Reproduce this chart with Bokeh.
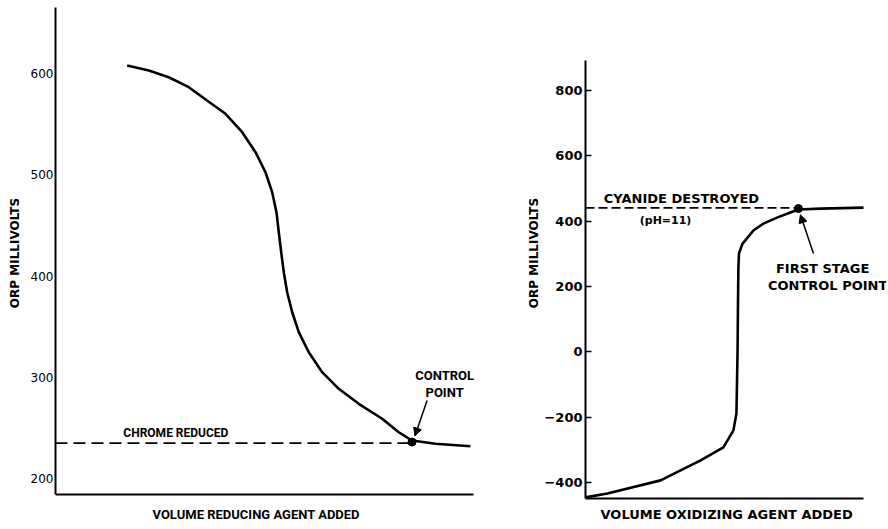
from bokeh.plotting import figure
from bokeh.layouts import row
from bokeh.models import Range1d, FixedTicker, Label, Arrow, NormalHead, Title
from bokeh.embed import file_html
from bokeh.resources import INLINE

# ---------------- Left panel: chrome reduction ----------------
chrome_x = [17.15, 22.32, 27.10, 31.89, 36.67, 40.67, 44.67, 47.85, 50.24, 51.84,
            52.87, 53.42, 54.00, 54.62, 55.43, 56.63, 58.21, 60.60, 63.80, 67.78,
            72.56, 78.16, 82.13, 85.33, 90.91, 99.28]
chrome_orp = [607.9, 603.0, 596.3, 586.5, 572.1, 560.2, 542.0, 522.3, 502.5, 482.8,
              463.0, 443.3, 423.5, 403.8, 384.0, 364.2, 344.5, 324.7, 305.0, 288.6,
              273.8, 259.0, 245.7, 237.5, 234.3, 231.9]
chrome_dash_x = [0, 85.3]
chrome_dash_y = [235, 235]
chrome_ctrl_x = [85.3]
chrome_ctrl_y = [236]
left_ticks = [200, 300, 400, 500, 600]
left_axis_bounds = (184.2, 665.2)
left_yrange = (180.25, 665.2)
left_xrange = (0, 103.6)

# ---------------- Right panel: cyanide oxidation ----------------
cyan_x = [0, 7.9, 27.0, 41.4, 49.6, 53.2, 54.3, 54.7, 54.9, 55.0, 55.2, 56.5,
          58.3, 60.4, 64.0, 69.1, 73.7, 76.6, 84.5, 100]
cyan_orp = [-445, -433, -393, -332, -292, -240, -188, 5, 188, 259, 302, 332,
            350, 372, 393, 412, 427, 436, 439, 442]
cyan_dash_x = [0, 76.6]
cyan_dash_y = [441, 441]
cyan_ctrl_x = [76.6]
cyan_ctrl_y = [439]
right_ticks = [-400, -200, 0, 200, 400, 600, 800]
right_axis_bounds = (-448.5, 892)
right_yrange = (-448.5, 1054.6)
right_xrange = (0, 108.27)


def base(fig, xlabel, xfont, xsize, xoffset):
    fig.outline_line_color = None
    fig.xgrid.visible = False
    fig.ygrid.visible = False
    fig.background_fill_color = "white"
    fig.border_fill_color = "white"
    for ax in (fig.xaxis[0], fig.yaxis[0]):
        ax.axis_line_color = "black"
        ax.axis_line_width = 2
        ax.minor_tick_line_color = None
        ax.axis_label_text_font_style = "bold"
        ax.axis_label_text_color = "black"
        ax.major_label_text_color = "black"
    xa = fig.xaxis[0]
    xa.ticker = FixedTicker(ticks=[])
    xa.major_tick_line_color = None
    xa.major_tick_out = 0
    xa.major_tick_in = 0
    xa.major_label_standoff = 0
    xa.bounds = (0, 100)
    fig.add_layout(Title(text=xlabel, align="left", offset=xoffset,
                         text_font=xfont, text_font_size=xsize,
                         text_font_style="bold", text_color="black",
                         standoff=12), "below")


def label(fig, x, y, text, font, size):
    fig.add_layout(Label(x=x, y=y, text=text, text_align="center",
                         text_baseline="middle", text_font=font,
                         text_font_style="bold", text_font_size=size,
                         text_color="black"))


# ---- left figure
p1 = figure(width=488, height=528, x_range=Range1d(*left_xrange),
            y_range=Range1d(*left_yrange), output_backend="svg",
            toolbar_location=None, min_border_left=55, min_border_right=0,
            min_border_top=7, min_border_bottom=30)
base(p1, "VOLUME REDUCING AGENT ADDED", "Roboto", "13px", 97)
p1.xaxis[0].fixed_location = left_axis_bounds[0]
ya = p1.yaxis[0]
ya.bounds = left_axis_bounds
ya.ticker = FixedTicker(ticks=left_ticks)
ya.major_tick_line_color = None
ya.major_tick_out = 0
ya.major_tick_in = 0
ya.major_label_standoff = 2
ya.major_label_text_font = "DejaVu Sans"
ya.major_label_text_font_size = "12px"
ya.axis_label = "ORP MILLIVOLTS"
ya.axis_label_text_font = "DejaVu Sans"
ya.axis_label_text_font_size = "12px"
ya.axis_label_standoff = 6

p1.line(chrome_dash_x, chrome_dash_y, line_color="black", line_width=1.8,
        line_dash="12 6")
p1.line(chrome_x, chrome_orp, line_color="black", line_width=2.6)
p1.scatter(chrome_ctrl_x, chrome_ctrl_y, size=8, color="black")
label(p1, 28.8, 245.4, "CHROME REDUCED", "Roboto", "12px")
label(p1, 93.1, 301.7, "CONTROL", "Roboto", "13px")
label(p1, 93.1, 284.9, "POINT", "Roboto", "13px")
p1.add_layout(Arrow(end=NormalHead(size=8, fill_color="black", line_color="black"),
                    x_start=88.9, y_start=277.0, x_end=86.0, y_end=242.0,
                    line_color="black", line_width=1.5))

# ---- right figure
p2 = figure(width=398, height=528, x_range=Range1d(*right_xrange),
            y_range=Range1d(*right_yrange), output_backend="svg",
            toolbar_location=None, min_border_left=97, min_border_right=0,
            min_border_top=7, min_border_bottom=30)
base(p2, "VOLUME OXIDIZING AGENT ADDED", "DejaVu Sans", "13px", 15)
yb = p2.yaxis[0]
yb.bounds = right_axis_bounds
yb.ticker = FixedTicker(ticks=right_ticks)
yb.major_tick_in = 6
yb.major_tick_out = 0
yb.major_tick_line_width = 1.5
yb.major_tick_line_color = "black"
yb.major_label_standoff = 3
yb.major_label_text_font = "DejaVu Sans"
yb.major_label_text_font_style = "bold"
yb.major_label_text_font_size = "13px"
yb.axis_label = "ORP MILLIVOLTS"
yb.axis_label_text_font = "DejaVu Sans"
yb.axis_label_text_font_size = "12px"
yb.axis_label_standoff = 0

p2.line(cyan_dash_x, cyan_dash_y, line_color="black", line_width=1.8,
        line_dash="9 4")
p2.line(cyan_x, cyan_orp, line_color="black", line_width=2.6)
p2.scatter(cyan_ctrl_x, cyan_ctrl_y, size=8, color="black")
label(p2, 34.5, 469.9, "CYANIDE DESTROYED", "DejaVu Sans", "13px")
label(p2, 28.8, 402.5, "(pH=11)", "DejaVu Sans", "11px")
label(p2, 85.3, 255.6, "FIRST STAGE", "DejaVu Sans", "13px")
label(p2, 87.1, 203.6, "CONTROL POINT", "DejaVu Sans", "13px")
p2.add_layout(Arrow(end=NormalHead(size=8, fill_color="black", line_color="black"),
                    x_start=82.0, y_start=301.5, x_end=77.3, y_end=420.0,
                    line_color="black", line_width=1.5))

layout = row(p1, p2)
open("out.html", "w").write(file_html(layout, INLINE))
